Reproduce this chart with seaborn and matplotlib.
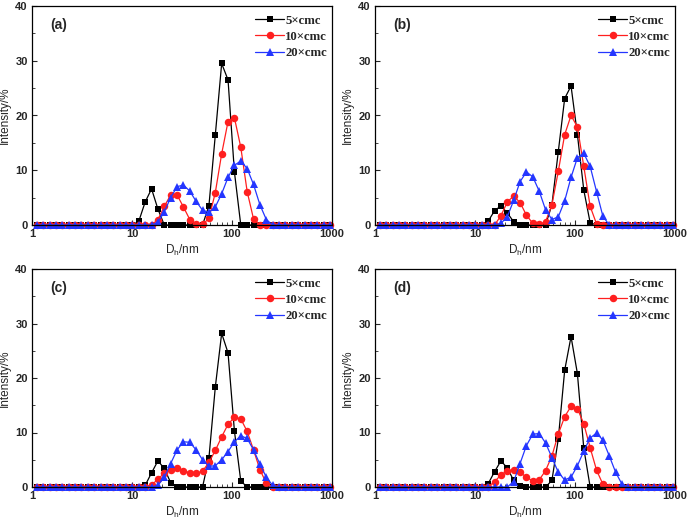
import numpy as np
import pandas as pd
import matplotlib
matplotlib.use("Agg")
import matplotlib.pyplot as plt
import seaborn as sns
from matplotlib.ticker import FixedLocator, MultipleLocator, LogLocator, NullFormatter, FixedFormatter

# Hydrodynamic diameter bins (nm)
D_LOW = [1.117, 1.294, 1.499, 1.736, 2.010, 2.328, 2.696, 3.122, 3.615, 4.187,
         4.849, 5.615, 6.503, 7.531, 8.721]
D_WIN = [10.10, 11.70, 13.54, 15.69, 18.17, 21.04, 24.36, 28.21, 32.67, 37.84,
         43.82, 50.75, 58.77, 68.06, 78.82, 91.28, 105.7, 122.4, 141.8, 164.2,
         190.1, 220.2, 255.0, 295.3, 342.0]
D_HIGH = [396.1, 458.7, 531.2, 615.1, 712.4, 825.0, 955.4]

SERIES = ["5×cmc", "10×cmc", "20×cmc"]
PANELS = ["(a)", "(b)", "(c)", "(d)"]

# Intensity (%) over the D_WIN bins; zero elsewhere
a_5 = [0, 0.7, 4.2, 6.6, 2.9, 0, 0, 0, 0, 0, 0, 0, 3.5, 16.4, 29.5, 26.5, 9.7, 0, 0, 0, 0, 0, 0, 0, 0]
a_10 = [0, 0, 0, 0, 1.0, 3.4, 5.5, 5.5, 3.3, 1.0, 0.2, 0.1, 1.2, 5.9, 13.0, 18.9, 19.6, 14.2, 6.1, 1.1, 0, 0, 0, 0, 0]
a_20 = [0, 0, 0, 0, 0.5, 2.4, 5.0, 7.0, 7.3, 6.2, 4.3, 2.7, 2.3, 3.3, 5.7, 8.7, 10.9, 11.7, 10.3, 7.4, 3.7, 1.0, 0, 0, 0]

b_5 = [0, 0, 0.7, 2.6, 3.5, 2.2, 0.6, 0, 0, 0, 0, 0, 3.7, 13.4, 23.1, 25.4, 16.5, 6.4, 0.4, 0, 0, 0, 0, 0, 0]
b_10 = [0, 0, 0, 0, 1.7, 4.2, 5.3, 4.1, 1.8, 0.3, 0.1, 0.6, 3.7, 9.8, 16.5, 20.0, 17.9, 10.7, 3.4, 0.2, 0, 0, 0, 0, 0]
b_20 = [0, 0, 0, 0, 0.3, 1.5, 4.5, 7.9, 9.7, 8.8, 6.2, 2.8, 1.0, 1.5, 4.4, 8.7, 12.3, 13.1, 10.7, 6.1, 1.6, 0, 0, 0, 0]

c_5 = [0, 0, 0.3, 2.6, 4.8, 3.4, 0.8, 0, 0, 0, 0, 0, 5.3, 18.3, 28.2, 24.6, 10.3, 1.1, 0, 0, 0, 0, 0, 0, 0]
c_10 = [0, 0, 0, 0.4, 1.4, 2.6, 3.2, 3.4, 3.0, 2.6, 2.5, 2.9, 4.5, 6.7, 9.2, 11.5, 12.8, 12.5, 10.2, 6.8, 3.2, 0.7, 0, 0, 0]
c_20 = [0, 0, 0, 0, 0.3, 1.8, 4.3, 6.8, 8.3, 8.2, 6.8, 5.0, 3.8, 3.9, 5.0, 6.5, 8.3, 9.4, 8.9, 6.8, 4.2, 1.8, 0.3, 0, 0]

d_5 = [0, 0, 0.6, 2.8, 4.8, 3.5, 1.2, 0.1, 0, 0, 0, 0, 1.2, 8.8, 21.4, 27.6, 20.8, 7.1, 0, 0, 0, 0, 0, 0, 0]
d_10 = [0, 0, 0, 1.0, 2.2, 3.0, 3.1, 2.7, 1.8, 1.1, 1.3, 3.0, 5.7, 9.7, 12.9, 14.8, 14.4, 11.6, 7.2, 3.1, 0.5, 0, 0, 0, 0]
d_20 = [0, 0, 0, 0, 0, 0, 1.0, 4.3, 7.6, 9.7, 9.8, 8.1, 5.4, 2.7, 1.3, 1.8, 3.9, 6.6, 9.0, 9.9, 8.6, 5.7, 2.7, 0.5, 0]

PANEL_DATA = [(a_5, a_10, a_20), (b_5, b_10, b_20), (c_5, c_10, c_20), (d_5, d_10, d_20)]

COLORS = ["#000000", "#ff1f1f", "#2436ff"]
MARKERS = ["s", "o", "^"]
MSIZES = [4.8, 5.4, 5.6]

sns.set_style("ticks")
plt.rcParams["font.family"] = ["Liberation Sans", "DejaVu Sans"]
plt.rcParams["xtick.direction"] = "in"
plt.rcParams["ytick.direction"] = "in"

W, H = 687, 523
fig = plt.figure(figsize=(W / 100, H / 100), dpi=100)

rects_px = [(32, 6, 300, 219), (375, 6, 300, 219), (32, 269, 300, 218), (375, 269, 300, 218)]

d_all = D_LOW + D_WIN + D_HIGH

for (lx, ty, w, h), label, series_vals in zip(rects_px, PANELS, PANEL_DATA):
    ax = fig.add_axes([lx / W, 1 - (ty + h) / H, w / W, h / H])
    for name, vals, col, mk, ms in zip(SERIES, series_vals, COLORS, MARKERS, MSIZES):
        y = [0.0] * len(D_LOW) + list(vals) + [0.0] * len(D_HIGH)
        df = pd.DataFrame({"D": d_all, "I": y})
        sns.lineplot(data=df, x="D", y="I", ax=ax, color=col, marker=mk,
                     markersize=ms, markeredgewidth=0, linewidth=0.9,
                     label=name, estimator=None, sort=True, clip_on=False)
    ax.set_xscale("log")
    ax.set_xlim(1, 1000)
    ax.set_ylim(0, 40)
    ax.xaxis.set_major_locator(FixedLocator([1, 10, 100, 1000]))
    ax.xaxis.set_major_formatter(FixedFormatter(["1", "10", "100", "1000"]))
    ax.xaxis.set_minor_locator(LogLocator(base=10, subs=np.arange(2, 10)))
    ax.xaxis.set_minor_formatter(NullFormatter())
    ax.yaxis.set_major_locator(MultipleLocator(10))
    ax.yaxis.set_minor_locator(MultipleLocator(5))
    ax.tick_params(which="major", length=3.5, width=0.8, labelsize=8, pad=3)
    ax.tick_params(which="minor", length=2, width=0.6)
    for t in ax.get_xticklabels() + ax.get_yticklabels():
        t.set_fontweight("bold")
    for sp in ax.spines.values():
        sp.set_visible(True)
        sp.set_linewidth(0.9)
        sp.set_color("black")
    ax.set_xlabel("D$_\\mathregular{h}$/nm", fontsize=8.5, labelpad=3)
    ax.set_ylabel("Intensity/%", fontsize=8.5, labelpad=3)
    ax.text(0.06, 0.945, label, transform=ax.transAxes, fontsize=10,
            fontweight="bold", va="top", ha="left")
    leg = ax.legend(loc="upper left", bbox_to_anchor=(0.735, 0.972), frameon=False,
                    prop={"family": ["Liberation Serif", "DejaVu Serif"], "weight": "bold", "size": 9.2},
                    handlelength=2.3, handletextpad=0.05, labelspacing=0.33,
                    borderaxespad=0.0, borderpad=0.2)
    ax.grid(False)

fig.savefig("out.png", dpi=100)
